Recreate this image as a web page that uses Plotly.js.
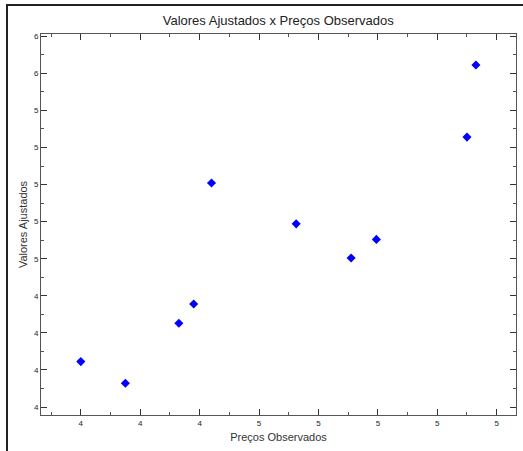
<!DOCTYPE html>
<html>
<head>
<meta charset="utf-8">
<script src="https://cdn.plot.ly/plotly-3.0.1.min.js"></script>
<style>
html,body{margin:0;padding:0;background:#fff;}
#wrap{position:relative;width:523px;height:451px;overflow:hidden;}
#frame{position:absolute;left:6px;top:4px;width:600px;height:600px;border-left:2px solid #222;border-top:2px solid #222;pointer-events:none;z-index:5;}
#chart{position:absolute;left:0;top:0;width:523px;height:451px;}
</style>
</head>
<body>
<div id="wrap">
<div id="chart"></div>
<div id="frame"></div>
</div>
<script>
// Observed prices (x) and fitted values (y)
const precosObservados = [4.00, 4.15, 4.33, 4.38, 4.44, 4.725, 4.91, 4.995, 5.30, 5.33];
const valoresAjustados = [4.045, 3.928, 4.252, 4.356, 5.008, 4.788, 4.604, 4.704, 5.256, 5.645];

const xTickVals = [4.0, 4.2, 4.4, 4.6, 4.8, 5.0, 5.2, 5.4];
const xTickText = ['4', '4', '4', '5', '5', '5', '5', '5'];
const yTickVals = [3.8, 4.0, 4.2, 4.4, 4.6, 4.8, 5.0, 5.2, 5.4, 5.6, 5.8];
const yTickText = ['4', '4', '4', '4', '5', '5', '5', '5', '5', '6', '6'];

const trace = {
  x: precosObservados,
  y: valoresAjustados,
  type: 'scatter',
  mode: 'markers',
  marker: {symbol: 'diamond', size: 7, color: '#0000FF', line: {width: 0}},
  hoverinfo: 'x+y'
};

const axisCommon = {
  showgrid: false,
  zeroline: false,
  showline: true,
  linecolor: '#555',
  linewidth: 1,
  mirror: 'ticks',
  ticks: 'inside',
  ticklen: 6,
  tickwidth: 1,
  tickcolor: '#333',
  tickmode: 'array',
  tickfont: {family: 'Liberation Sans, Arial, sans-serif', size: 8, color: '#222'},
  minor: {ticks: 'inside', ticklen: 3, tickwidth: 1, tickcolor: '#555', tickmode: 'linear', dtick: 0.2}
};

const layout = {
  width: 523,
  height: 451,
  margin: {l: 41, r: 7, t: 34, b: 36, pad: 0},
  paper_bgcolor: '#fff',
  plot_bgcolor: '#fff',
  showlegend: false,
  title: {
    text: 'Valores Ajustados x Preços Observados',
    font: {family: 'Liberation Sans, Arial, sans-serif', size: 13, color: '#222'},
    x: 0.532, xanchor: 'center', y: 0.955, yanchor: 'middle'
  },
  xaxis: Object.assign({}, axisCommon, {
    range: [3.866, 5.465],
    tickvals: xTickVals,
    ticktext: xTickText,
    minor: Object.assign({}, axisCommon.minor, {tick0: 3.9}),
    title: {text: 'Preços Observados', font: {family: 'Liberation Sans, Arial, sans-serif', size: 11, color: '#333'}, standoff: 6}
  }),
  yaxis: Object.assign({}, axisCommon, {
    range: [3.757, 5.812],
    tickvals: yTickVals,
    ticktext: yTickText,
    minor: Object.assign({}, axisCommon.minor, {tick0: 3.9}),
    title: {text: 'Valores Ajustados', font: {family: 'Liberation Sans, Arial, sans-serif', size: 11, color: '#333'}, standoff: 4}
  })
};

Plotly.newPlot('chart', [trace], layout, {displayModeBar: false, staticPlot: true});
</script>
</body>
</html>
